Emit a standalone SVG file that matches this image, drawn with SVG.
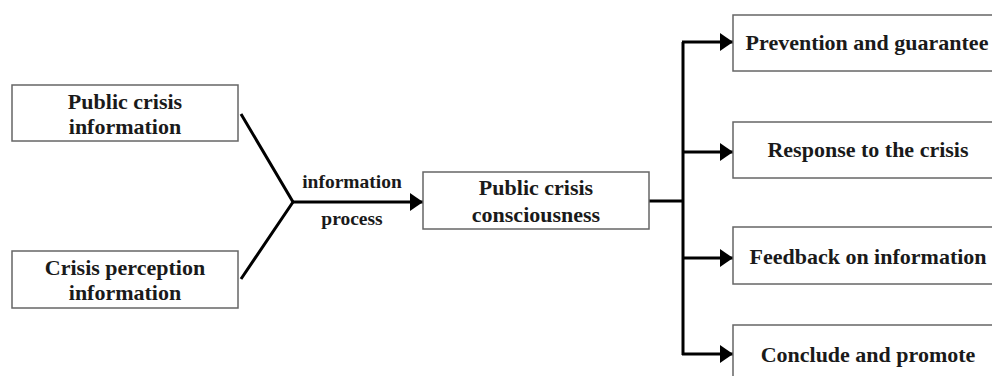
<svg xmlns="http://www.w3.org/2000/svg" width="992" height="376" viewBox="0 0 992 376">
<style>
.box{fill:#fff;stroke:#666;stroke-width:1.5}
.t{font-family:"Liberation Serif","Times New Roman",serif;font-weight:bold;font-size:22px;fill:#1a1a1a;text-anchor:middle}
.lbl{font-size:19.5px}
.c{fill:none;stroke:#000;stroke-width:3}
</style>
<defs>
<marker id="ah" markerUnits="userSpaceOnUse" markerWidth="13" markerHeight="18" refX="13" refY="9" orient="auto">
<path d="M0,0 L13,9 L0,18 Z" fill="#000"/>
</marker>
</defs>
<rect width="992" height="376" fill="#fff"/>
<g id="connectors">
<path class="c" d="M241,114 L293,202 L241,279"/>
<path class="c" d="M293,202 L423,202" marker-end="url(#ah)"/>
<path class="c" d="M649,201 L683,201"/>
<path class="c" d="M683,42 L683,355"/>
<path class="c" d="M682,42 L733,42" marker-end="url(#ah)"/>
<path class="c" d="M682,152 L733,152" marker-end="url(#ah)"/>
<path class="c" d="M682,258 L733,258" marker-end="url(#ah)"/>
<path class="c" d="M682,354 L733,354" marker-end="url(#ah)"/>
<text class="t lbl" x="352" y="188">information</text>
<text class="t lbl" x="352" y="225">process</text>
</g>
<g id="n1">
<rect class="box" x="12" y="85" width="226" height="56"/>
<text class="t" x="125" y="109">Public crisis</text>
<text class="t" x="125" y="134">information</text>
</g>
<g id="n2">
<rect class="box" x="12" y="251" width="226" height="57"/>
<text class="t" x="125" y="275">Crisis perception</text>
<text class="t" x="125" y="300">information</text>
</g>
<g id="n3">
<rect class="box" x="423" y="172" width="226" height="57"/>
<text class="t" x="536" y="195">Public crisis</text>
<text class="t" x="536" y="222">consciousness</text>
</g>
<g id="n4">
<rect class="box" x="733" y="15" width="270" height="56"/>
<text class="t" x="867" y="50">Prevention and guarantee</text>
</g>
<g id="n5">
<rect class="box" x="733" y="122" width="270" height="56"/>
<text class="t" x="868" y="157">Response to the crisis</text>
</g>
<g id="n6">
<rect class="box" x="733" y="227" width="270" height="57"/>
<text class="t" x="868" y="264">Feedback on information</text>
</g>
<g id="n7">
<rect class="box" x="733" y="325" width="270" height="60"/>
<text class="t" x="868" y="362">Conclude and promote</text>
</g>
</svg>
